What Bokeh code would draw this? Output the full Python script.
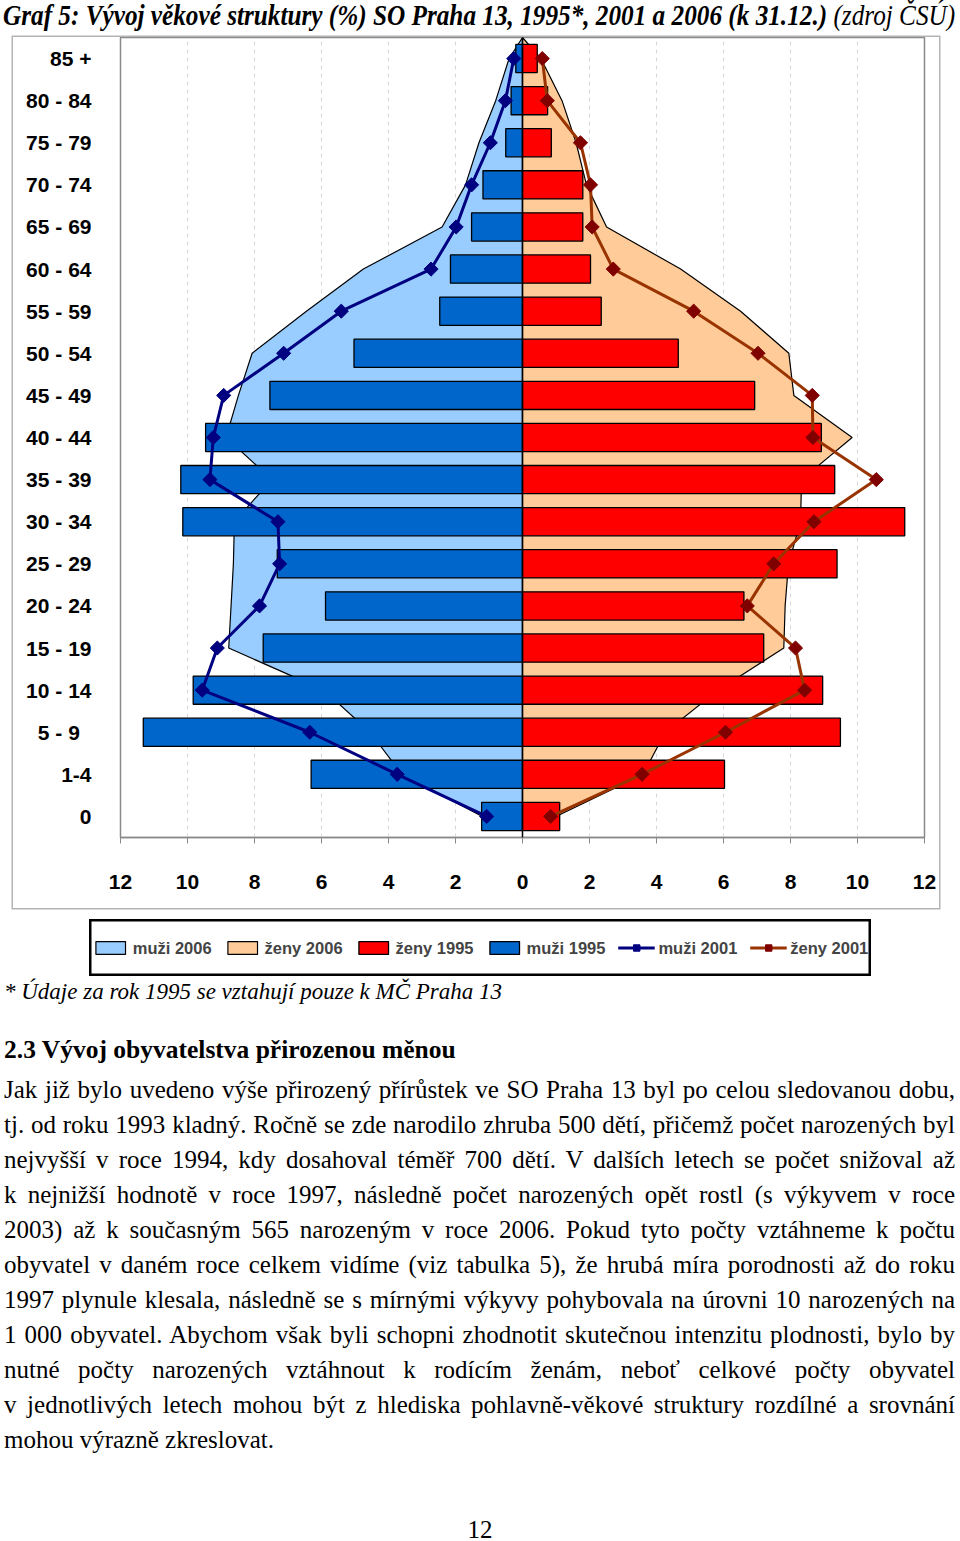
import numpy as np
from bokeh.plotting import figure
from bokeh.models import (Range1d, FixedTicker, Span, Legend, LegendItem, Div)
from bokeh.layouts import column
from bokeh.embed import file_html
from bokeh.resources import INLINE

# ---------------- data ----------------
age_groups = ["85 +", "80 - 84", "75 - 79", "70 - 74", "65 - 69", "60 - 64",
              "55 - 59", "50 - 54", "45 - 49", "40 - 44", "35 - 39", "30 - 34",
              "25 - 29", "20 - 24", "15 - 19", "10 - 14", "5  -  9", "1-4", "0"]

muzi_1995 = [0.20, 0.34, 0.50, 1.18, 1.52, 2.15, 2.47, 5.03, 7.54, 9.46,
             10.20, 10.14, 7.32, 5.88, 7.74, 9.83, 11.32, 6.31, 1.22]
zeny_1995 = [0.44, 0.75, 0.86, 1.80, 1.80, 2.03, 2.35, 4.65, 6.93, 8.92,
             9.32, 11.41, 9.39, 6.61, 7.20, 8.96, 9.49, 6.03, 1.11]
muzi_2001 = [0.26, 0.51, 0.96, 1.52, 1.98, 2.73, 5.41, 7.13, 8.92, 9.23,
             9.33, 7.30, 7.25, 7.85, 9.11, 9.56, 6.35, 3.74, 1.07]
zeny_2001 = [0.59, 0.74, 1.73, 2.03, 2.08, 2.71, 5.11, 7.03, 8.65, 8.67,
             10.56, 8.70, 7.50, 6.71, 8.15, 8.42, 6.06, 3.57, 0.84]
muzi_2006 = [0.40, 0.80, 1.30, 1.70, 2.40, 4.75, 6.45, 8.07, 8.48, 8.85,
             7.48, 8.60, 8.63, 8.70, 8.77, 5.93, 4.55, 3.60, 1.20]
zeny_2006 = [0.55, 1.18, 1.60, 1.91, 2.51, 4.72, 6.51, 7.95, 8.10, 9.84,
             8.33, 8.30, 7.94, 7.84, 7.80, 5.84, 4.26, 3.60, 1.00]

x_ticks = [-12, -10, -8, -6, -4, -2, 0, 2, 4, 6, 8, 10, 12]
x_tick_labels = ["12", "10", "8", "6", "4", "2", "0", "2", "4", "6", "8", "10", "12"]

legend_labels = ["muži 2006", "ženy 2006", "ženy 1995", "muži 1995", "muži 2001", "ženy 2001"]

title_bold = "Graf 5: Vývoj věkové struktury (%) SO Praha 13, 1995*, 2001 a 2006 (k 31.12.)"
title_plain = " (zdroj ČSÚ)"
footnote = "* Údaje za rok 1995 se vztahují pouze k MČ Praha 13"
heading = "2.3 Vývoj obyvatelstva přirozenou měnou"
body_lines = [
    "Jak již bylo uvedeno výše přirozený přírůstek ve SO Praha 13 byl po celou sledovanou dobu,",
    "tj. od roku 1993 kladný. Ročně se zde narodilo zhruba 500 dětí, přičemž počet narozených byl",
    "nejvyšší v roce 1994, kdy dosahoval téměř 700 dětí. V dalších letech se počet snižoval až",
    "k nejnižší hodnotě v roce 1997, následně počet narozených opět rostl (s výkyvem v roce",
    "2003) až k současným 565 narozeným v roce 2006. Pokud tyto počty vztáhneme k počtu",
    "obyvatel v daném roce celkem vidíme (viz tabulka 5), že hrubá míra porodnosti až do roku",
    "1997 plynule klesala, následně se s mírnými výkyvy pohybovala na úrovni 10 narozených na",
    "1 000 obyvatel. Abychom však byli schopni zhodnotit skutečnou intenzitu plodnosti, bylo by",
    "nutné počty narozených vztáhnout k rodícím ženám, neboť celkové počty obyvatel",
    "v jednotlivých letech mohou být z hlediska pohlavně-věkové struktury rozdílné a srovnání",
    "mohou výrazně zkreslovat.",
]
page_number = "12"

# ---------------- styles ----------------
AX_FONT = "Liberation Sans"
SERIF = "Liberation Serif"
C_M06, C_Z06 = "#99CCFF", "#FFCC99"
C_M95, C_Z95 = "#0066CC", "#FF0000"
C_M01, C_M01M = "#000080", "#000080"
C_Z01, C_Z01M = "#993300", "#800000"

n = len(age_groups)
ypos = [n - 0.5 - i for i in range(n)]


def draw_series(fig):
    """Draw all series into fig; returns renderers for the legend."""
    r_m06 = fig.patch(x=[0] + [-v for v in muzi_2006] + [0], y=[n] + ypos + [ypos[-1]],
                      fill_color=C_M06, line_color="black", line_width=1.2)
    r_z06 = fig.patch(x=[0] + zeny_2006 + [0], y=[n] + ypos + [ypos[-1]],
                      fill_color=C_Z06, line_color="black", line_width=1.2)
    r_m95 = fig.hbar(y=ypos, left=[-v for v in muzi_1995], right=0, height=0.67,
                     fill_color=C_M95, line_color="black", line_width=1.3)
    r_z95 = fig.hbar(y=ypos, left=0, right=zeny_1995, height=0.67,
                     fill_color=C_Z95, line_color="black", line_width=1.3)
    r_m01l = fig.line(x=[-v for v in muzi_2001], y=ypos, line_color=C_M01, line_width=3)
    r_m01s = fig.scatter(x=[-v for v in muzi_2001], y=ypos, marker="square", angle=np.pi / 4,
                         size=10, fill_color=C_M01M, line_color=C_M01M)
    r_z01l = fig.line(x=zeny_2001, y=ypos, line_color=C_Z01, line_width=3)
    r_z01s = fig.scatter(x=zeny_2001, y=ypos, marker="square", angle=np.pi / 4,
                         size=10, fill_color=C_Z01M, line_color=C_Z01M)
    return [[r_m06], [r_z06], [r_z95], [r_m95], [r_m01l, r_m01s], [r_z01l, r_z01s]]


# ---------------- chart ----------------
W, H = 926, 871
BL, BR, BB = 107, 15, 71
p = figure(width=W, height=H, x_range=Range1d(-12, 12), y_range=Range1d(0, n),
           output_backend="svg", toolbar_location=None,
           min_border_left=BL, min_border_right=BR, min_border_top=0,
           min_border_bottom=BB, margin=(0, 0, 0, 13))
# outer chart-area border drawn just outside the figure box
p.styles = {"box-shadow": "0 0 0 1.5px #b4b4b4"}
p.outline_line_color = "#8a8a8a"
p.outline_line_width = 1.5

p.xaxis.ticker = FixedTicker(ticks=x_ticks)
p.xaxis.major_label_overrides = dict(zip(x_ticks, x_tick_labels))
p.xaxis.axis_line_color = "#8a8a8a"
p.xaxis.axis_line_width = 1.5
p.xaxis.major_tick_line_color = "#8a8a8a"
p.xaxis.major_tick_out = 6
p.xaxis.major_tick_in = 0
p.xaxis.minor_tick_line_color = None
p.xaxis.major_label_standoff = 31
p.xaxis.major_label_text_font = AX_FONT
p.xaxis.major_label_text_font_style = "bold"
p.xaxis.major_label_text_font_size = "21px"
p.xaxis.major_label_text_color = "black"

p.yaxis.ticker = FixedTicker(ticks=ypos)
p.yaxis.major_label_overrides = dict(zip(ypos, age_groups))
p.yaxis.axis_line_color = None
p.yaxis.major_tick_line_color = None
p.yaxis.major_tick_out = 0
p.yaxis.major_tick_in = 0
p.yaxis.minor_tick_line_color = None
p.yaxis.major_label_standoff = 29
p.yaxis.major_label_text_font = AX_FONT
p.yaxis.major_label_text_font_style = "bold"
p.yaxis.major_label_text_font_size = "21px"
p.yaxis.major_label_text_color = "black"

p.xgrid.ticker = FixedTicker(ticks=[t for t in x_ticks if t not in (-12, 0, 12)])
p.xgrid.grid_line_color = "#d8d8d8"
p.xgrid.grid_line_dash = "4 4"
p.ygrid.visible = False

draw_series(p)
p.add_layout(Span(location=0, dimension="height", line_color="black", line_width=1.5))

# ---------------- legend (own small figure, series kept off-range) ----------------
LW, LH = 782, 57
lg = figure(width=LW, height=LH, x_range=Range1d(-100, -99), y_range=Range1d(0, n),
            x_axis_type=None, y_axis_type=None, output_backend="svg",
            toolbar_location=None, min_border=0, margin=(11, 0, 0, 89))
lg.frame_align = False
lg.outline_line_color = "black"
lg.outline_line_width = 4
lg.grid.visible = False
rends = draw_series(lg)
legend = Legend(items=[LegendItem(label=l, renderers=r) for l, r in zip(legend_labels, rends)],
                orientation="horizontal", location="center",
                border_line_color=None, background_fill_alpha=0,
                label_text_font=AX_FONT, label_text_font_style="bold",
                label_text_font_size="16.5px", glyph_width=37, glyph_height=16,
                label_standoff=4, spacing=12, padding=0, margin=0)
lg.add_layout(legend, "center")

# ---------------- texts ----------------
title_html = (
    f'<div style="position:absolute; top:0px; left:3px; white-space:nowrap; '
    f'font-family:\'{SERIF}\'; font-size:29px; line-height:30px; '
    f'transform:scaleX(0.87); transform-origin:left top;">'
    f'<b><i>{title_bold}</i></b><i>{title_plain}</i></div>'
)
title_div = Div(text=title_html, width=960, height=37, margin=(0, 0, 0, 0))

TOP = 976
parts = ['<div style="position:relative; width:960px; height:565px;">']
parts.append(
    f'<div style="position:absolute; left:4px; top:{992 - TOP - 15}px; line-height:30px; '
    f'font-family:\'{SERIF}\'; font-size:23px; font-style:italic; white-space:nowrap;">{footnote}</div>')
parts.append(
    f'<div style="position:absolute; left:4px; top:{1050 - TOP - 15}px; line-height:30px; '
    f'font-family:\'{SERIF}\'; font-size:25.5px; font-weight:bold; white-space:nowrap;">{heading}</div>')
for i, line in enumerate(body_lines):
    last = i == len(body_lines) - 1
    align = "left" if last else "justify"
    top = 1089 + 35 * i - TOP - 17.5
    parts.append(
        f'<div style="position:absolute; left:4px; top:{top}px; width:951px; line-height:35px; '
        f'font-family:\'{SERIF}\'; font-size:25px; text-align:{align}; text-align-last:{align};">{line}</div>')
parts.append(
    f'<div style="position:absolute; left:0px; top:{1530 - TOP - 15}px; width:960px; line-height:30px; '
    f'text-align:center; font-family:\'{SERIF}\'; font-size:25px;">{page_number}</div>')
parts.append('</div>')
text_div = Div(text="".join(parts), width=960, height=565, margin=(0, 0, 0, 0))

layout = column(title_div, p, lg, text_div, spacing=0)
open("out.html", "w").write(file_html(layout, INLINE))
